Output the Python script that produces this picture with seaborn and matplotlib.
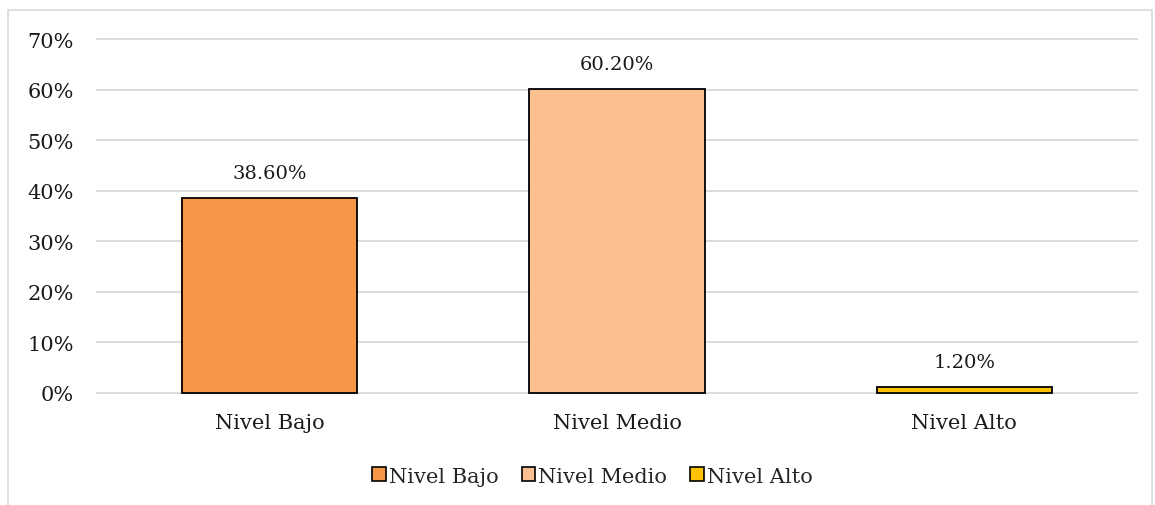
import matplotlib
matplotlib.use("Agg")
import matplotlib.pyplot as plt
import seaborn as sns
import pandas as pd
from matplotlib.patches import Rectangle
from matplotlib.ticker import FuncFormatter

categories = ["Nivel Bajo", "Nivel Medio", "Nivel Alto"]
values = [38.60, 60.20, 1.20]
colors = ["#F79646", "#FAC090", "#FFC000"]
y_ticks = [0, 10, 20, 30, 40, 50, 60, 70]

sns.set_theme(style="white")
plt.rcParams["font.family"] = ["DejaVu Serif"]

df = pd.DataFrame({"nivel": categories, "pct": values})

fig = plt.figure(figsize=(11.55, 5.06), dpi=100)
ax = fig.add_axes([0.0831, 0.2174, 0.9022, 0.7075])

sns.barplot(data=df, x="nivel", y="pct", hue="nivel", palette=colors,
            saturation=1, dodge=False, width=0.505, edgecolor="black",
            linewidth=1.3, legend=False, ax=ax, zorder=3)

ax.set_ylim(-0.4, 70.4)
ax.set_yticks(y_ticks)
ax.yaxis.set_major_formatter(FuncFormatter(lambda v, _: f"{v:.0f}%"))
ax.grid(axis="y", color="#D9D9D9", linewidth=1.3, zorder=0)
ax.set_axisbelow(True)
for s in ax.spines.values():
    s.set_visible(False)
ax.set_xlabel("")
ax.set_ylabel("")
ax.tick_params(axis="y", labelsize=15, pad=16, colors="#1a1a1a", length=0)
ax.tick_params(axis="x", labelsize=15, pad=13, colors="#1a1a1a", length=0)

for i, v in enumerate(values):
    ax.annotate(f"{v:.2f}%", (i, v), xytext=(0, 11.5), textcoords="offset points",
                ha="center", va="bottom", fontsize=14, color="#1a1a1a")

handles = [Rectangle((0, 0), 1, 1, facecolor=c, edgecolor="black", linewidth=1.2)
           for c in colors]
fig.legend(handles, categories, loc="center", bbox_to_anchor=(0.513, 0.057),
           ncol=3, frameon=False, fontsize=15, handlelength=0.65,
           handleheight=0.65, handletextpad=0.15, columnspacing=1.1)

fig.patches.append(Rectangle((0.007, -0.01), 0.99, 0.988, transform=fig.transFigure,
                             fill=False, edgecolor="#D9D9D9", linewidth=1.2))

fig.savefig("out.png", dpi=100)
